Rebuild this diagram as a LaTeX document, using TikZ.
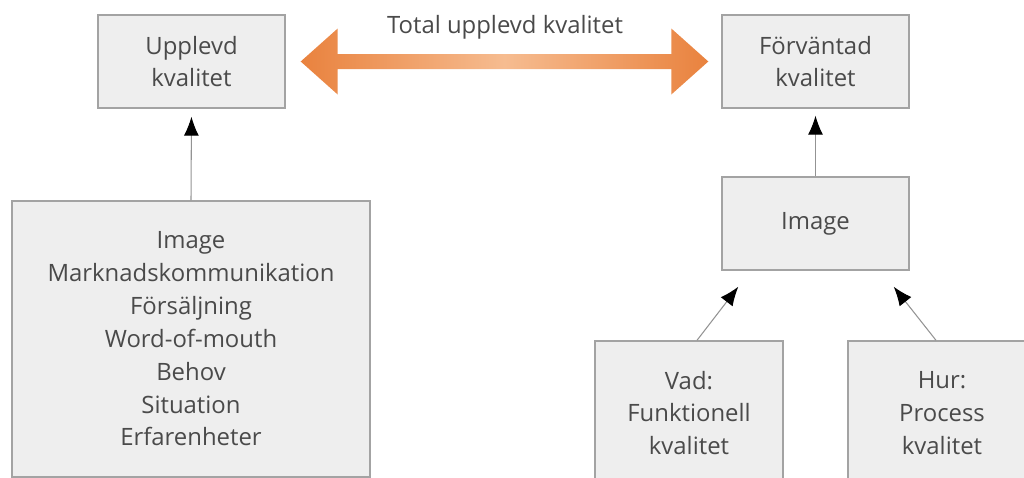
\documentclass[tikz,border=0pt]{standalone}
\usepackage{fontspec}
\setmainfont{Open Sans}
\usepackage{xcolor}
\usepackage{tikz}
\usetikzlibrary{arrows.meta,positioning,calc}
\definecolor{boxgray}{HTML}{EEEEEE}
\definecolor{edgegray}{HTML}{A3A3A3}
\definecolor{txtgray}{HTML}{4A4A4A}
\definecolor{orng}{HTML}{E9823E}
\definecolor{orngl}{HTML}{F6BC90}

\begin{document}
\begin{tikzpicture}[x=0.02cm,y=-0.02cm,>=Latex,
  every node/.style={font=\fontsize{13.6}{18.7}\selectfont,text=txtgray,align=center},
  box/.style={draw=edgegray,line width=0.8pt,fill=boxgray,minimum width=3.74cm,minimum height=1.86cm,inner sep=0pt},
  link/.style={draw=gray!85,line width=0.6pt,-{Latex[length=0.38cm,width=0.3cm,black]}}]
\clip (0,0) rectangle (1024,477);
\node[box] (upp) at (191.5,61.5) {Upplevd\\kvalitet};
\node[box] (forv) at (815.5,61.5) {Förväntad\\kvalitet};
\node[box] (img) at (815.5,223.5) {Image};
\node[box,minimum width=7.16cm,minimum height=5.52cm] (src) at (191,339) {Image\\Marknadskommunikation\\Försäljning\\Word-of-mouth\\Behov\\Situation\\Erfarenheter};
\node[box,minimum width=3.76cm,minimum height=2.88cm] (vad) at (689,413) {Vad:\\Funktionell\\kvalitet};
\node[box,minimum width=3.76cm,minimum height=2.88cm] (hur) at (942,413) {Hur:\\Process\\kvalitet};
\node (total) at (505,27) {Total upplevd kvalitet};
% total arrow
\coordinate (l) at ($(upp.east)+(15,0)$);
\coordinate (r) at ($(forv.west)+(-13,0)$);
\shade[left color=orng,right color=orng,middle color=orngl]
  (l) -- ++(37,-33) -- ++(0,25.5) -- ($(r)+(-37,-7.5)$) -- ++(0,-25.5) -- (r)
  -- ++(-37,33) -- ++(0,-25.5) -- ($(l)+(37,7.5)$) -- ++(0,25.5) -- cycle;
\draw[link,shorten >=0.16cm] (src.north) -- (upp.south);
\draw[link,shorten >=0.14cm] (img.north) -- (forv.south);
\draw[link] ($(vad.north)+(8,0)$) -- ($(img.south west)+(17,16)$);
\draw[link] ($(hur.north)+(-6,0)$) -- ($(img.south east)+(-16,16)$);
\end{tikzpicture}
\end{document}
